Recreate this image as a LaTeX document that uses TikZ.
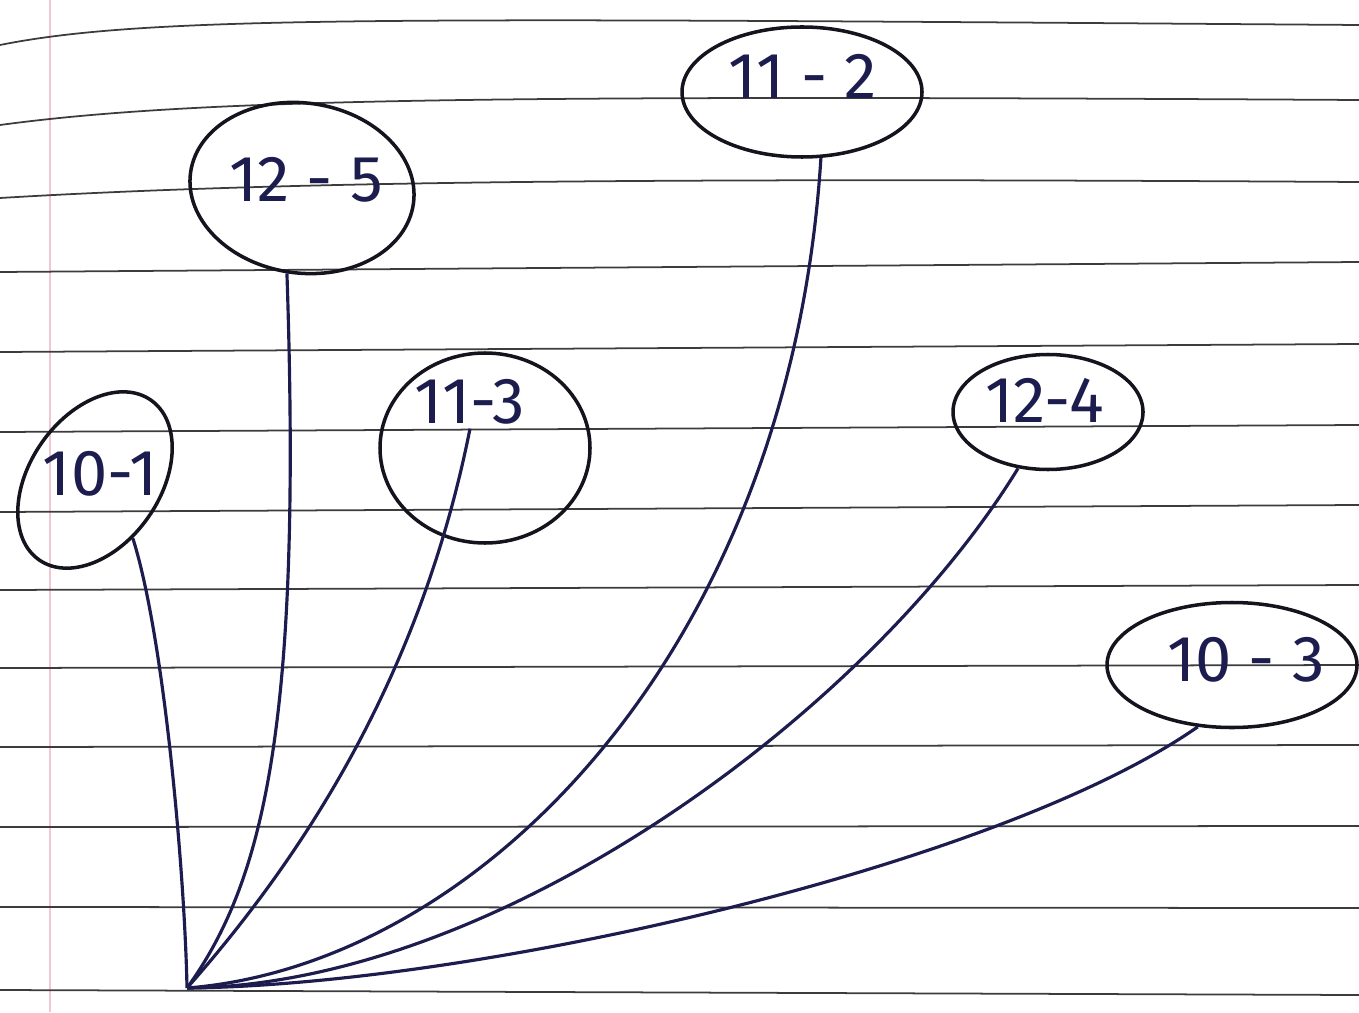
\documentclass[tikz,border=0pt]{standalone}
\usepackage{fontspec}
\setmainfont{Fira Sans}
\usepackage{tikz}
\usetikzlibrary{shapes.geometric,calc}
\definecolor{ink}{RGB}{20,20,30}
\definecolor{pen}{RGB}{28,28,78}
\definecolor{rule}{RGB}{60,60,60}
\definecolor{margin}{RGB}{240,200,210}
\tikzset{
  bubble/.style={
    draw=ink, ellipse, line width=2pt, inner sep=0pt,
  },
  tag/.style={font=\fontsize{37}{44}\selectfont, text=pen},
  link/.style={draw=pen, line width=1.8pt},
  ruled/.style={draw=rule, line width=1pt},
}

\begin{document}
\begin{tikzpicture}[x=0.2mm,y=-0.2mm]
  \useasboundingbox (0,0) rectangle (1359,1012);

  \draw[margin, line width=0.8pt] (50,0) -- (50,1012);
  \draw[ruled] (0,45) .. controls (150,15) and (400,18) .. (1359,25);
  \draw[ruled] (0,125) .. controls (200,98) and (500,95) .. (1359,100);
  \draw[ruled] (0,198) .. controls (300,180) and (700,178) .. (1359,182);
  \draw[ruled] (0,272) -- (1359,262);
  \draw[ruled] (0,352) -- (1359,344);
  \draw[ruled] (0,432) -- (1359,425);
  \draw[ruled] (0,512) -- (1359,505);
  \draw[ruled] (0,590) -- (1359,585);
  \draw[ruled] (0,668) -- (1359,665);
  \draw[ruled] (0,747) -- (1359,745);
  \draw[ruled] (0,827) -- (1359,826);
  \draw[ruled] (0,907) -- (1359,908);
  \draw[ruled] (0,990) -- (1359,995);

  \node[bubble, minimum width=45mm, minimum height=34mm, rotate=-8] (n125) at (302,188) {};
  \node[tag] (t125) at (306,180) {12 - 5};
  \node[bubble, minimum width=48mm, minimum height=26mm] (n112) at (802,92) {};
  \node[tag] (t112) at (803,76) {11 - 2};
  \node[bubble, minimum width=39mm, minimum height=26mm, rotate=55] (n101) at (95,480) {};
  \node[tag] (t101) at (100,474) {10-1};
  \node[bubble, minimum width=42mm, minimum height=38mm] (n113) at (485,448) {};
  \node[tag] (t113) at (470,402) {11-3};
  \node[bubble, minimum width=38mm, minimum height=23mm] (n124) at (1048,412) {};
  \node[tag] (t124) at (1045,400) {12-4};
  \node[bubble, minimum width=50mm, minimum height=25mm] (n103) at (1232,665) {};
  \node[tag] (t103) at (1246,660) {10 - 3};

  \coordinate (hub) at (187,988);

  \draw[link] (n101.248) .. controls (165,640) and (185,880) .. (hub);
  \draw[link] (n125.268) .. controls (302,720) and (265,880) .. (hub);
  \draw[link] ($(t113.south)+(0,-2)$) .. controls (420,680) and (300,860) .. (hub);
  \draw[link] (n112.286) .. controls (790,650) and (480,965) .. (hub);
  \draw[link] (n124.242) .. controls (870,710) and (500,985) .. (hub);
  \draw[link] (n103.241) .. controls (1000,865) and (480,985) .. (hub);
\end{tikzpicture}
\end{document}
